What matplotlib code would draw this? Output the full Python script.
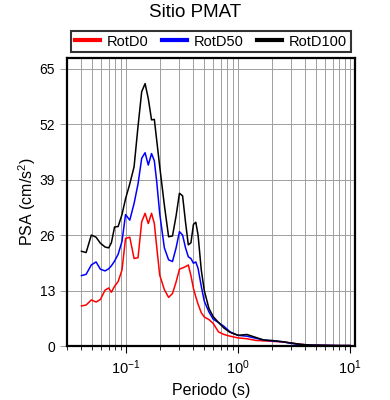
import matplotlib
matplotlib.use("Agg")
import matplotlib.pyplot as plt
from matplotlib.ticker import LogLocator, FixedLocator, NullFormatter

plt.rcParams['font.family'] = ['Liberation Sans', 'DejaVu Sans']
plt.rcParams['mathtext.fontset'] = 'custom'
plt.rcParams['mathtext.rm'] = 'Liberation Sans'
plt.rcParams['mathtext.it'] = 'Liberation Sans:italic'

# periods (s)
periods = [0.040, 0.044, 0.049, 0.054, 0.059, 0.065, 0.070, 0.074, 0.079, 0.085,
           0.092, 0.099, 0.108, 0.118, 0.128, 0.138, 0.148, 0.158, 0.169, 0.179,
           0.188, 0.200, 0.220, 0.240, 0.260, 0.280, 0.300, 0.320, 0.340, 0.360,
           0.380, 0.400, 0.420, 0.440, 0.470, 0.500, 0.550, 0.600, 0.670, 0.750,
           0.850, 1.00, 1.20, 1.45, 1.70, 2.00, 2.50, 3.00, 3.60, 4.50,
           6.00, 8.00, 10.0]

rotd0 = [9.4, 9.6, 10.8, 10.3, 10.9, 13.1, 13.6, 12.6, 14.0, 15.1,
         17.8, 25.2, 25.5, 20.5, 20.7, 29.1, 31.1, 28.7, 31.1, 28.7,
         23.2, 16.6, 13.2, 11.4, 12.3, 15.0, 18.0, 18.3, 18.6, 19.0,
         16.5, 13.5, 11.5, 9.8, 7.8, 6.8, 6.2, 5.3, 3.3, 2.7,
         2.3, 1.9, 1.7, 1.3, 1.2, 1.1, 0.95, 0.7, 0.4, 0.2,
         0.15, 0.1, 0.1]

rotd50 = [16.5, 16.8, 19.0, 19.7, 18.0, 17.6, 18.1, 18.8, 19.9, 21.5,
          24.5, 30.8, 29.5, 33.4, 38.0, 44.0, 45.3, 42.4, 45.1, 43.4,
          38.5, 31.0, 23.0, 20.2, 19.8, 23.0, 26.8, 26.0, 23.0, 20.9,
          20.5, 19.4, 19.7, 18.2, 14.0, 10.5, 8.0, 6.3, 5.5, 4.6,
          3.3, 2.5, 2.3, 1.8, 1.4, 1.2, 1.0, 0.6, 0.35, 0.2,
          0.15, 0.1, 0.1]

rotd100 = [22.2, 21.9, 26.0, 25.5, 24.1, 23.2, 23.0, 24.2, 27.9, 28.0,
           30.8, 34.5, 38.0, 42.0, 51.5, 59.6, 61.5, 58.0, 53.0, 53.1,
           48.2, 42.0, 33.0, 25.6, 25.8, 30.5, 35.8, 35.2, 29.0, 23.7,
           24.2, 28.5, 29.0, 26.0, 17.8, 13.0, 8.8, 6.9, 5.5, 4.2,
           3.2, 2.5, 2.7, 2.0, 1.4, 1.3, 1.0, 0.7, 0.4, 0.2,
           0.15, 0.1, 0.1]

series = [("RotD0", rotd0, "red"), ("RotD50", rotd50, "blue"), ("RotD100", rotd100, "black")]
yticks = [0, 13, 26, 39, 52, 65]

fig = plt.figure(figsize=(3.9, 4.0), dpi=100)
ax = fig.add_axes([0.1718, 0.135, 0.7385, 0.72])

for label, vals, color in series:
    ax.plot(periods, vals, color=color, lw=1.1, label=label)

ax.set_xscale('log')
ax.set_xlim(0.0297, 11.1)
ax.set_ylim(0, 67.5)
ax.xaxis.set_major_locator(LogLocator(base=10))
ax.xaxis.set_minor_locator(LogLocator(base=10, subs=range(2, 10)))
ax.xaxis.set_minor_formatter(NullFormatter())
ax.yaxis.set_major_locator(FixedLocator(yticks))

ax.grid(True, which='both', axis='x', color='0.62', lw=0.7)
ax.grid(True, which='major', axis='y', color='0.62', lw=0.7)
ax.set_axisbelow(True)

for s in ax.spines.values():
    s.set_linewidth(1.6)
ax.tick_params(axis='x', which='major', length=5, width=0.8, direction='out', labelsize=10.5, pad=4)
ax.tick_params(axis='x', which='minor', length=3, width=0.6, direction='out')
ax.tick_params(axis='y', which='major', length=5, width=0.6, color='0.55', direction='out', labelsize=10)

ax.set_xlabel("Periodo (s)", fontsize=11.5, labelpad=4)
ax.set_ylabel("PSA (cm/s$^2$)", fontsize=11.5, labelpad=1)
fig.suptitle("Sitio PMAT", fontsize=13.5, y=0.99)

leg = ax.legend(loc='lower center', bbox_to_anchor=(0.5, 1.01), ncol=3, fontsize=10.5,
                frameon=True, fancybox=False, edgecolor='black', handlelength=1.7,
                columnspacing=0.9, handletextpad=0.5, borderpad=0.25, borderaxespad=0.2)
leg.get_frame().set_linewidth(1.5)
for h in leg.get_lines():
    h.set_linewidth(3)

fig.savefig("out.png", dpi=100)
